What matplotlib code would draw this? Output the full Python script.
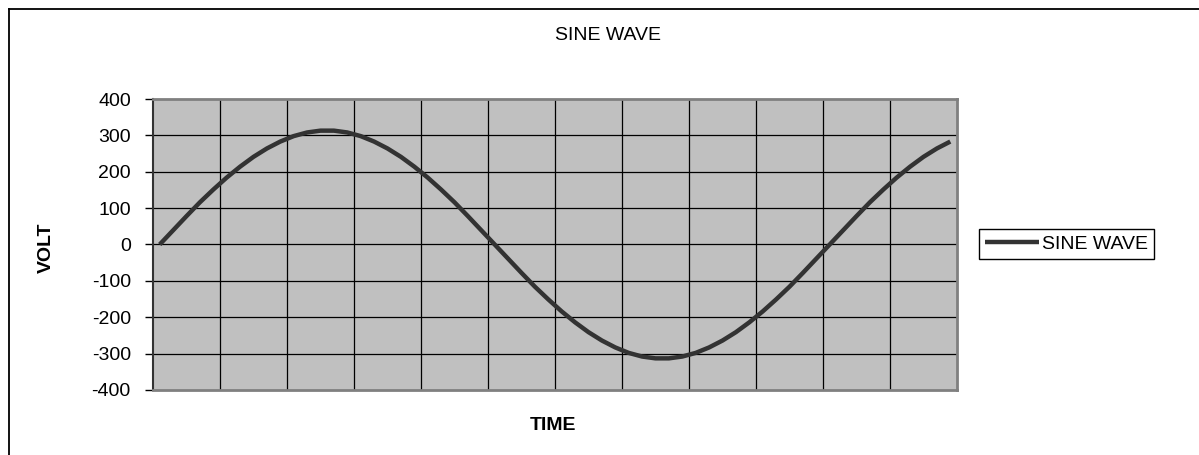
import matplotlib
matplotlib.use("Agg")
import matplotlib.pyplot as plt
from matplotlib.lines import Line2D

plt.rcParams['font.family'] = ['Liberation Sans', 'DejaVu Sans']

## values (60 samples, 5 per grid column)
volt = [0, 39, 78, 116, 151, 184, 214, 241, 264, 283,
        298, 308, 313, 313, 308, 298, 283, 264, 241, 214,
        184, 151, 116, 78, 39, 0, -39, -78, -116, -151,
        -184, -214, -241, -264, -283, -298, -308, -313, -313, -308,
        -298, -283, -264, -241, -214, -184, -151, -116, -78, -39,
        0, 39, 78, 116, 151, 184, 214, 241, 264, 283]
time = list(range(1, len(volt) + 1))
yticks = [-400, -300, -200, -100, 0, 100, 200, 300, 400]

W, H = 1199, 455
fig = plt.figure(figsize=(W / 100, H / 100), dpi=100)

# outer chart frame (cropped on right/bottom)
fig.add_artist(Line2D([9 / W, 9 / W], [1 - 9 / H, -0.1], color='black', lw=1.3,
                      transform=fig.transFigure))
fig.add_artist(Line2D([9 / W, 1.1], [1 - 9 / H, 1 - 9 / H], color='black', lw=1.3,
                      transform=fig.transFigure))

left, right, top, bottom = 153 / W, 957 / W, 1 - 99 / H, 1 - 390 / H
ax = fig.add_axes([left, bottom, right - left, top - bottom])
ax.set_facecolor('#c0c0c0')

ax.plot(time, volt, color='#333333', lw=3.2, solid_capstyle='butt', label='SINE WAVE', zorder=3)

ax.set_xlim(0.5, len(volt) + 0.5)
ax.set_ylim(-400, 400)
ax.set_yticks(yticks)
ax.set_yticklabels([str(v) for v in yticks], fontsize=14)
ax.set_xticks([])
for x in range(5, len(volt), 5):
    ax.axvline(x + 0.5, color='black', lw=0.9, zorder=1)
for y in yticks[1:-1]:
    ax.axhline(y, color='black', lw=0.9, zorder=1)

ax.tick_params(axis='y', direction='out', length=6, width=1, color='black', pad=10)
for s in ['top', 'right', 'bottom']:
    ax.spines[s].set_color('#808080')
    ax.spines[s].set_linewidth(2)
ax.spines['left'].set_color('#333333')
ax.spines['left'].set_linewidth(1.5)

fig.text(608 / W, 1 - 35 / H, 'SINE WAVE', ha='center', va='center', fontsize=14)
fig.text(553 / W, 1 - 425 / H, 'TIME', ha='center', va='center', fontsize=14, fontweight='bold')
fig.text(46 / W, 1 - 248 / H, 'VOLT', ha='center', va='center', fontsize=14,
         fontweight='bold', rotation=90)

leg = ax.legend(loc='center left', bbox_to_anchor=(979 / W, 1 - 244 / H),
                bbox_transform=fig.transFigure, fontsize=14, frameon=True,
                fancybox=False, handlelength=2.8, handletextpad=0.15,
                borderpad=0.3, borderaxespad=0)
leg.get_frame().set_edgecolor('black')
leg.get_frame().set_linewidth(1)
leg.get_frame().set_facecolor('white')
leg.get_frame().set_alpha(1)

fig.savefig('out.png', dpi=100)
